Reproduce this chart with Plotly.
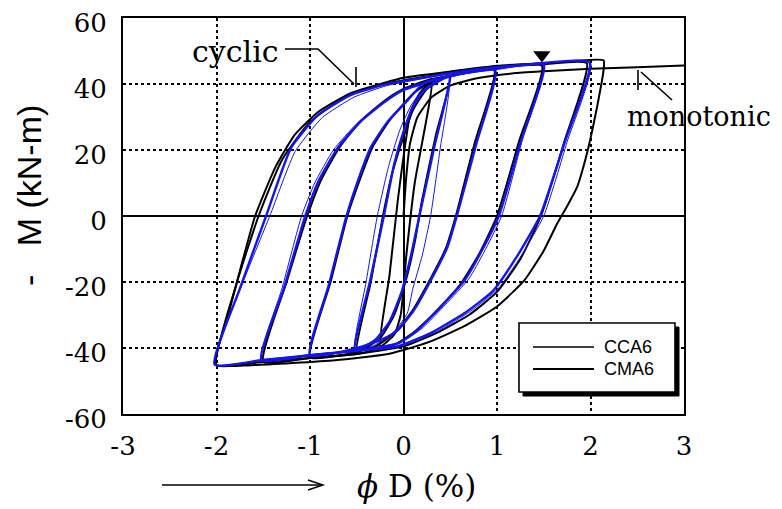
import plotly.graph_objects as go

# ---------------- data ----------------
x_ticks = [-3, -2, -1, 0, 1, 2, 3]
x_tick_text = ["-3", "-2", "-1", "0", "1", "2", "3"]
y_ticks = [-60, -40, -20, 0, 20, 40, 60]
y_tick_text = ["-60", "-40", "-20", "0", "20", "40", "60"]

# black curves (CCA6)
bk_outer_x = [2.14, 2.14, 2.07, 2.00, 1.93, 1.86, 1.76, 1.64, 1.50, 1.29, 1.00, 0.65, 0.29, 0.00, -0.20, -0.73, -1.63, -2.01,
              -1.87, -1.73, -1.59, -1.37, -1.16, -0.91, -0.56, -0.20, 0.00, 0.50, 1.00, 1.50, 2.14]
bk_outer_y = [47.2, 44.3, 33.0, 23.5, 15.5, 9.0, 3.5, -2.5, -10.5, -19.6, -27.4, -33.4, -38.0, -40.6, -42.0, -43.7, -45.2, -45.0,
              -29.5, -14.5, -0.3, 14.8, 24.7, 31.6, 37.3, 40.4, 41.9, 43.8, 45.5, 46.3, 47.2]

bk2_x = [1.96, 1.72, 1.47, 1.25, 1.00, 0.70, 0.35, 0.00, -0.50, -1.00, -1.50, -2.00,
         -1.78, -1.55, -1.30, -1.00, -0.60, -0.20, 0.30, 1.00, 1.50, 1.96]
bk2_y = [46.3, 22.5, 0.0, -13.0, -23.0, -30.0, -35.5, -39.5, -41.8, -43.0, -44.2, -45.2,
         -20.0, 0.0, 17.0, 28.5, 36.5, 40.0, 42.5, 45.0, 46.0, 46.3]

bk15_x = [1.48, 1.24, 1.00, 0.80, 0.60, 0.35, 0.10, -0.10, -0.50, -1.00, -1.50,
          -1.25, -1.03, -0.88, -0.68, -0.45, -0.20, 0.00, 0.30, 0.80, 1.48]
bk15_y = [45.5, 23.0, 0.0, -12.0, -21.0, -29.0, -35.5, -39.0, -41.8, -43.0, -44.2,
          -20.0, 0.0, 11.0, 21.0, 29.0, 35.0, 38.5, 41.5, 44.0, 45.5]

bk1_x = [0.97, 0.76, 0.56, 0.45, 0.27, 0.10, -0.08, -0.30, -0.60, -1.00,
         -0.78, -0.60, -0.48, -0.33, -0.15, 0.00, 0.10, 0.25, 0.50, 0.97]
bk1_y = [44.2, 22.0, 0.0, -10.0, -20.0, -28.5, -35.0, -39.5, -41.8, -42.8,
         -20.0, 0.0, 10.0, 21.0, 29.0, 34.0, 37.0, 40.0, 42.3, 44.2]

bk05_x = [0.50, 0.35, 0.20, 0.12, 0.02, -0.10, -0.25, -0.50,
          -0.35, -0.22, -0.12, 0.00, 0.10, 0.25, 0.50]
bk05_y = [42.5, 25.0, 5.0, -8.0, -20.0, -30.0, -37.0, -41.2,
          -20.0, 0.0, 13.0, 24.0, 32.0, 38.5, 42.5]

bk025_x = [0.30, 0.12, 0.03, -0.03, -0.10, -0.25, -0.15, -0.06, 0.02, 0.08, 0.18, 0.30]
bk025_y = [40.5, 10.0, -12.0, -30.0, -36.0, -39.5, -18.0, 5.0, 22.0, 32.0, 37.5, 40.5]

mono_x = [0.00, 0.03, 0.07, 0.15, 0.30, 0.50, 0.80, 1.20, 1.60, 2.00, 2.50, 3.00]
mono_y = [0.0, 12.0, 22.0, 30.0, 36.0, 39.5, 41.8, 43.3, 44.0, 44.6, 45.1, 45.6]

# blue curves (CMA6)
bl2_x = [1.99, 1.72, 1.46, 1.21, 0.96, 0.65, 0.29, -0.06, -0.50, -1.00, -1.50, -2.02,
         -1.75, -1.47, -1.20, -0.91, -0.56, -0.20, 0.30, 0.80, 1.30, 1.99]
bl2_y = [46.5, 22.0, 0.0, -12.4, -22.6, -29.5, -35.5, -39.5, -40.8, -42.2, -43.6, -45.0,
         -22.0, 0.0, 20.8, 30.7, 36.7, 39.8, 42.3, 44.5, 45.8, 46.5]

bl2b_x = [2.00, 1.75, 1.50, 1.26, 1.02, 0.72, 0.36, -0.02, -0.50, -1.00, -1.50, -2.02,
          -1.73, -1.43, -1.16, -0.87, -0.53, -0.18, 0.30, 0.80, 1.30, 2.00]
bl2b_y = [46.4, 22.5, 0.0, -12.0, -21.8, -28.8, -35.0, -39.2, -40.7, -42.1, -43.5, -45.0,
          -21.0, 0.0, 19.5, 29.8, 36.0, 39.5, 42.2, 44.4, 45.7, 46.4]

bl15_x = [1.50, 1.26, 1.02, 0.82, 0.65, 0.40, 0.15, -0.06, -0.50, -1.00, -1.52,
          -1.28, -1.05, -0.91, -0.70, -0.46, -0.20, 0.00, 0.50, 1.00, 1.50]
bl15_y = [45.8, 23.0, 0.0, -11.4, -19.6, -27.4, -34.6, -38.6, -40.8, -42.2, -43.6,
          -22.0, 0.0, 10.5, 20.8, 28.6, 34.6, 38.2, 42.5, 44.6, 45.8]

bl15b_x = [1.50, 1.27, 1.05, 0.86, 0.70, 0.45, 0.20, -0.03, -0.50, -1.00, -1.52,
           -1.30, -1.09, -0.95, -0.75, -0.50, -0.23, 0.00, 0.50, 1.00, 1.50]
bl15b_y = [45.7, 23.0, 0.0, -11.0, -19.0, -26.8, -34.0, -38.3, -40.7, -42.1, -43.6,
           -22.0, 0.0, 10.0, 20.0, 28.0, 34.2, 38.0, 42.4, 44.5, 45.7]

bl1_x = [0.98, 0.78, 0.57, 0.47, 0.29, 0.11, -0.06, -0.20, -0.49, -1.00,
         -0.80, -0.61, -0.49, -0.35, -0.17, 0.00, 0.22, 0.47, 0.98]
bl1_y = [44.3, 22.0, 0.0, -9.4, -19.6, -28.6, -34.6, -37.0, -40.0, -42.2,
         -21.0, 0.0, 10.5, 20.8, 28.6, 33.7, 40.3, 42.2, 44.3]

bl05_x = [0.49, 0.33, 0.17, 0.08, -0.02, -0.15, -0.30, -0.52,
          -0.36, -0.21, -0.10, 0.00, 0.10, 0.20, 0.35, 0.49]
bl05_y = [42.2, 21.0, 0.0, -12.0, -23.0, -32.0, -37.5, -40.8,
          -20.0, 0.0, 15.7, 25.6, 33.0, 37.5, 40.5, 42.2]

bl05b_x = [0.49, 0.39, 0.29, 0.20, 0.10, 0.04, -0.10, -0.30, -0.52,
           -0.40, -0.28, -0.16, -0.04, 0.08, 0.20, 0.35, 0.49]
bl05b_y = [42.0, 20.0, 0.0, -12.0, -22.0, -29.5, -35.0, -39.0, -40.8,
           -20.0, 0.0, 15.0, 26.0, 33.5, 38.0, 40.8, 42.0]

peak_marker_x = [1.48]
peak_marker_y = [48.8]

black_loops = [(bk_outer_x, bk_outer_y), (bk2_x, bk2_y), (bk15_x, bk15_y), (bk1_x, bk1_y),
               (bk05_x, bk05_y), (bk025_x, bk025_y), (mono_x, mono_y)]
blue_thin = [(bl2b_x, bl2b_y), (bl15b_x, bl15b_y), (bl05b_x, bl05b_y)]
blue_thick = [(bl2_x, bl2_y), (bl15_x, bl15_y), (bl1_x, bl1_y), (bl05_x, bl05_y)]

BLUE = "#1414f0"
fig = go.Figure()
for xs, ys in black_loops:
    fig.add_trace(go.Scatter(x=xs, y=ys, mode="lines", showlegend=False, hoverinfo="skip",
                             line=dict(color="black", width=2, shape="spline", smoothing=0.5)))
for xs, ys in blue_thin:
    fig.add_trace(go.Scatter(x=xs, y=ys, mode="lines", showlegend=False, hoverinfo="skip",
                             line=dict(color=BLUE, width=1, shape="spline", smoothing=0.5)))
for xs, ys in blue_thick:
    fig.add_trace(go.Scatter(x=xs, y=ys, mode="lines", showlegend=False, hoverinfo="skip",
                             line=dict(color=BLUE, width=2.4, shape="spline", smoothing=0.5)))
fig.add_trace(go.Scatter(x=peak_marker_x, y=peak_marker_y, mode="markers", showlegend=False,
                         marker=dict(symbol="triangle-down", size=15, color="black")))

# ---------------- layout ----------------
# the page body adds an 8 px offset; positions below are window pixels
OFF = 8
W, H = 782 - OFF, 509 - OFF
L, R, T, B = 123 - OFF, 98, 18 - OFF, 95
PW, PH = W - L - R, H - T - B


def px(xw):
    return (xw - OFF - L) / PW


def py(yw):
    return (H - B - (yw - OFF)) / PH


serif = "DejaVu Serif"
axis_common = dict(showgrid=True, gridcolor="black", gridwidth=1.5, griddash="dot",
                   zeroline=True, zerolinecolor="black", zerolinewidth=1.6,
                   showline=True, mirror=True, linecolor="black", linewidth=2,
                   automargin=False, ticklabeloverflow="allow",
                   ticks="", tickfont=dict(family=serif, size=26, color="black"))
fig.update_layout(
    width=W, height=H, margin=dict(l=L, r=R, t=T, b=B, autoexpand=False),
    paper_bgcolor="white", plot_bgcolor="white",
    xaxis=dict(range=[-3, 3], tickvals=x_ticks, ticktext=x_tick_text, ticklabelstandoff=8, **axis_common),
    yaxis=dict(range=[-60, 60], tickvals=y_ticks, ticktext=y_tick_text, ticklabelstandoff=9,
               ticklabelshift=5, **axis_common),
)

ann = []
ann.append(dict(text="-&nbsp;&nbsp;&nbsp;M (kN-m)", textangle=-90, xref="paper", yref="paper",
                x=px(29), y=py(195), xanchor="center", yanchor="middle", showarrow=False,
                font=dict(family="Liberation Sans", size=34, color="black")))
ann.append(dict(text="<i>ϕ</i> D (%)", xref="paper", yref="paper", x=px(416), y=py(486),
                xanchor="center", yanchor="middle", showarrow=False,
                font=dict(family=serif, size=31, color="black")))
ann.append(dict(text="cyclic", xref="paper", yref="paper", x=px(235), y=py(51),
                xanchor="center", yanchor="middle", showarrow=False,
                font=dict(family=serif, size=30, color="black")))
ann.append(dict(text="monotonic", xref="paper", yref="paper", x=px(699), y=py(116),
                xanchor="center", yanchor="middle", showarrow=False,
                font=dict(family=serif, size=27, color="black")))
ann.append(dict(text="CCA6", xref="paper", yref="paper", x=px(602), y=py(347),
                xanchor="left", yanchor="middle", showarrow=False,
                font=dict(family="Liberation Sans", size=18, color="black")))
ann.append(dict(text="CMA6", xref="paper", yref="paper", x=px(602), y=py(369),
                xanchor="left", yanchor="middle", showarrow=False,
                font=dict(family="Liberation Sans", size=18, color="black")))
fig.update_layout(annotations=ann)


def path(points):
    d = "M " + " L ".join(f"{px(a)},{py(b)}" for a, b in points)
    return d


shapes = []
line_k = dict(color="black", width=1.6)
# cyclic leader
shapes.append(dict(type="path", xref="paper", yref="paper", layer="above",
                   path=path([(285, 49), (318, 49), (354, 84)]), line=line_k))
shapes.append(dict(type="path", xref="paper", yref="paper", layer="above",
                   path=path([(356, 67), (356, 87)]), line=line_k))
# monotonic leader
shapes.append(dict(type="path", xref="paper", yref="paper", layer="above",
                   path=path([(672, 100), (641, 72)]), line=line_k))
shapes.append(dict(type="path", xref="paper", yref="paper", layer="above",
                   path=path([(638, 70), (638, 90)]), line=line_k))
# x-axis arrow
shapes.append(dict(type="path", xref="paper", yref="paper", layer="above",
                   path=path([(162, 485), (322, 485)]), line=dict(color="black", width=1.4)))
shapes.append(dict(type="path", xref="paper", yref="paper", layer="above",
                   path=path([(308, 480), (323, 485), (308, 490)]), line=dict(color="black", width=1.4)))
# legend box with shadow
shapes.append(dict(type="rect", xref="paper", yref="paper", layer="above",
                   x0=px(523), x1=px(679), y0=py(327), y1=py(396),
                   fillcolor="black", line=dict(color="black", width=1)))
shapes.append(dict(type="rect", xref="paper", yref="paper", layer="above",
                   x0=px(519), x1=px(675), y0=py(323), y1=py(392),
                   fillcolor="white", line=dict(color="black", width=1.6)))
shapes.append(dict(type="line", xref="paper", yref="paper", layer="above",
                   x0=px(533), x1=px(594), y0=py(347), y1=py(347), line=dict(color="black", width=1.6)))
shapes.append(dict(type="line", xref="paper", yref="paper", layer="above",
                   x0=px(533), x1=px(594), y0=py(369), y1=py(369), line=dict(color="black", width=2)))
fig.update_layout(shapes=shapes)

fig.write_html("out.html")
